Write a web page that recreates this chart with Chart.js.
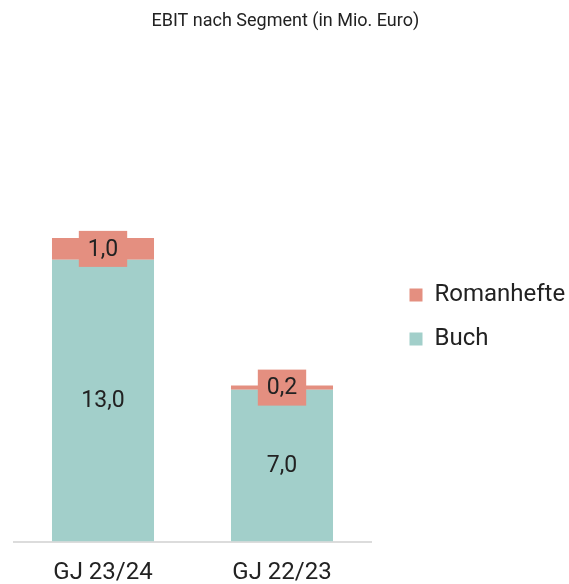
<!DOCTYPE html>
<html lang="de">
<head>
<meta charset="utf-8">
<title>EBIT nach Segment</title>
<script src="https://cdn.jsdelivr.net/npm/chart.js@4/dist/chart.umd.min.js"></script>
<style>
    html, body { margin: 0; padding: 0; background: #fff; }
    #wrap { width: 569px; height: 584px; }
</style>
</head>
<body>
<div id="wrap"><canvas id="ebitChart"></canvas></div>
<script>
const years = ['GJ 23/24', 'GJ 22/23'];
const buch = [13.0, 7.0];
const romanhefte = [1.0, 0.2];
const yMax = 20.9;

const colors = {
    buch: '#a2cfca',
    romanhefte: '#e48f80',
    text: '#222222',
    axis: '#dcdcdc'
};

const legendFont = { family: 'Roboto', size: 24 };
const legendPadding = 20;
const legendBox = 13;
const plotRight = 371.5;

function fmt(v) {
    return v.toFixed(1).replace('.', ',');
}

// work out the legend width up front so the plot area ends where it should
const measureCtx = document.createElement('canvas').getContext('2d');
measureCtx.font = legendFont.size + 'px ' + legendFont.family;
const longestLabel = Math.max(...['Romanhefte', 'Buch'].map(t => measureCtx.measureText(t).width));
const legendWidth = legendPadding + legendBox + legendFont.size / 2 + longestLabel + 10;
const padRight = Math.max(0, 569 - plotRight - legendWidth);

// value labels: plain text on Buch, boxed text on Romanhefte
const valueLabels = {
    id: 'valueLabels',
    afterDatasetsDraw(chart) {
        const ctx = chart.ctx;
        ctx.save();
        ctx.font = '23px Roboto';
        ctx.textAlign = 'center';
        ctx.textBaseline = 'middle';
        chart.data.datasets.forEach((ds, di) => {
            const meta = chart.getDatasetMeta(di);
            meta.data.forEach((bar, i) => {
                const text = fmt(ds.data[i]);
                const cx = bar.x;
                const cy = (bar.y + bar.base) / 2;
                if (ds.boxed) {
                    const w = ctx.measureText(text).width + 18;
                    const h = 36;
                    ctx.fillStyle = ds.backgroundColor;
                    ctx.fillRect(cx - w / 2, cy - h / 2, w, h);
                }
                ctx.fillStyle = colors.text;
                ctx.fillText(text, cx, cy + 1);
            });
        });
        ctx.restore();
    }
};

// nudge the legend a bit away from the plot and centre it on the plot height
const legendPlace = {
    id: 'legendPlace',
    afterLayout(chart) {
        const lg = chart.legend;
        const area = chart.chartArea;
        if (!lg) return;
        lg.left += 18;
        lg.right += 18;
        lg.top = area.top + 2;
        lg.bottom = area.bottom + 2;
    }
};

new Chart(document.getElementById('ebitChart').getContext('2d'), {
    type: 'bar',
    data: {
        labels: years,
        datasets: [
            { label: 'Buch', data: buch, backgroundColor: colors.buch },
            { label: 'Romanhefte', data: romanhefte, backgroundColor: colors.romanhefte, boxed: true }
        ]
    },
    options: {
        responsive: true,
        maintainAspectRatio: false,
        animation: false,
        layout: { padding: { left: 13.5, right: padRight, top: 0, bottom: 0 } },
        datasets: { bar: { categoryPercentage: 1, barPercentage: 0.57 } },
        plugins: {
            title: {
                display: true,
                text: 'EBIT nach Segment (in Mio. Euro)',
                color: colors.text,
                font: { family: 'Roboto', size: 18, weight: 'normal' },
                padding: { top: 11, bottom: 55.9 }
            },
            legend: {
                position: 'right',
                align: 'center',
                reverse: true,
                labels: {
                    color: colors.text,
                    font: legendFont,
                    boxWidth: legendBox,
                    boxHeight: legendBox,
                    padding: legendPadding
                }
            },
            tooltip: { enabled: false }
        },
        scales: {
            x: {
                stacked: true,
                grid: { display: false, drawTicks: false },
                border: { display: true, color: colors.axis, width: 2 },
                ticks: {
                    color: colors.text,
                    font: { family: 'Roboto', size: 24 },
                    padding: 17,
                    maxRotation: 0
                },
                afterFit(scale) { scale.height = 42.5; }
            },
            y: {
                stacked: true,
                display: false,
                min: 0,
                max: yMax
            }
        }
    },
    plugins: [valueLabels, legendPlace]
});
</script>
</body>
</html>
